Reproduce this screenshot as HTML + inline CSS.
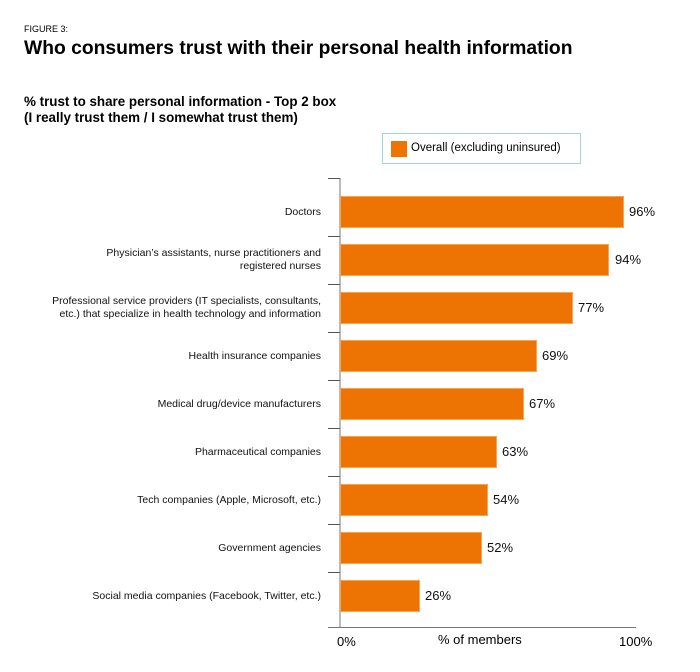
<!DOCTYPE html>
<html><head><style>
body{margin:0;width:700px;height:672px;background:#fff;font-family:"Liberation Sans",sans-serif;position:relative;overflow:hidden;color:#000}
.a{position:absolute}
.lab{position:absolute;right:379px;text-align:right;font-size:10.5px;line-height:13px;color:#111}
.bar{position:absolute;left:340px;height:32px;background:#ed7402;border:1px solid #f5a35a;box-sizing:border-box}
.val{position:absolute;font-size:13px;color:#111}
.tk{position:absolute;left:328px;width:12px;height:1px;background:#555}
</style></head><body>
<div class="a" style="left:24px;top:24px;font-size:9px">FIGURE 3:</div>
<div class="a" style="left:24px;top:38px;font-size:19.3px;font-weight:bold">Who consumers trust with their personal health information</div>
<div class="a" style="left:24px;top:94px;font-size:13.4px;font-weight:bold;line-height:16px">% trust to share personal information - Top 2 box<br>(I really trust them / I somewhat trust them)</div>
<div class="a" style="left:382px;top:133px;width:197px;height:29px;border:1px solid #9fd8d0"></div>
<div class="a" style="left:391px;top:141px;width:16px;height:16px;background:#ed7402"></div>
<div class="a" style="left:411px;top:142px;font-size:11.5px">Overall (excluding uninsured)</div>
<div class="a" style="left:339px;top:178px;width:2px;height:450px;background:#bbb"></div>
<div class="a" style="left:328px;top:627px;width:308px;height:1px;background:#777"></div>
<div class="tk" style="top:178px"></div><div class="tk" style="top:236px"></div><div class="tk" style="top:284px"></div><div class="tk" style="top:332px"></div><div class="tk" style="top:380px"></div><div class="tk" style="top:428px"></div><div class="tk" style="top:476px"></div><div class="tk" style="top:524px"></div><div class="tk" style="top:572px"></div>

<div class="lab" style="top:206px">Doctors</div>
<div class="lab" style="top:247px">Physician’s assistants, nurse practitioners and<br>registered nurses</div>
<div class="lab" style="top:295px">Professional service providers (IT specialists, consultants,<br>etc.) that specialize in health technology and information</div>
<div class="lab" style="top:350px">Health insurance companies</div>
<div class="lab" style="top:398px">Medical drug/device manufacturers</div>
<div class="lab" style="top:446px">Pharmaceutical companies</div>
<div class="lab" style="top:494px">Tech companies (Apple, Microsoft, etc.)</div>
<div class="lab" style="top:542px">Government agencies</div>
<div class="lab" style="top:590px">Social media companies (Facebook, Twitter, etc.)</div>

<div class="bar" style="top:196px;width:284px"></div><div class="val" style="left:629px;top:204px">96%</div>
<div class="bar" style="top:244px;width:269px"></div><div class="val" style="left:615px;top:252px">94%</div>
<div class="bar" style="top:292px;width:233px"></div><div class="val" style="left:578px;top:300px">77%</div>
<div class="bar" style="top:340px;width:197px"></div><div class="val" style="left:542px;top:348px">69%</div>
<div class="bar" style="top:388px;width:184px"></div><div class="val" style="left:529px;top:396px">67%</div>
<div class="bar" style="top:436px;width:157px"></div><div class="val" style="left:502px;top:444px">63%</div>
<div class="bar" style="top:484px;width:148px"></div><div class="val" style="left:493px;top:492px">54%</div>
<div class="bar" style="top:532px;width:142px"></div><div class="val" style="left:487px;top:540px">52%</div>
<div class="bar" style="top:580px;width:80px"></div><div class="val" style="left:425px;top:588px">26%</div>

<div class="a" style="left:337px;top:634px;font-size:13px">0%</div>
<div class="a" style="left:438px;top:632px;font-size:13px">% of members</div>
<div class="a" style="left:619px;top:634px;font-size:13px">100%</div>
</body></html>
